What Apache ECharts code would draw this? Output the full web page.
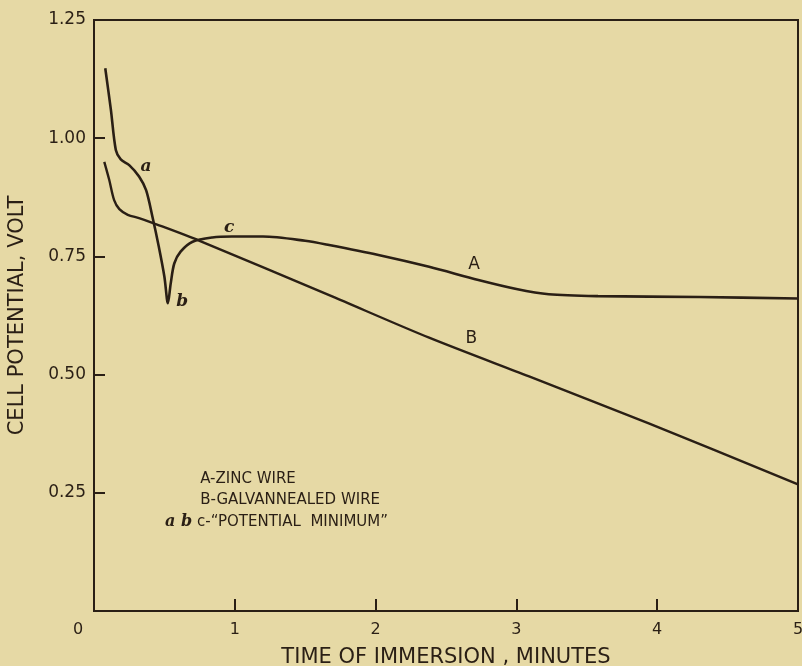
<!DOCTYPE html>
<html>
<head>
<meta charset="utf-8">
<script src="https://cdn.jsdelivr.net/npm/echarts@6/dist/echarts.min.js"></script>
<style>
html,body{margin:0;padding:0;background:#e6d9a5;}
#chart{width:802px;height:666px;}
</style>
</head>
<body>
<div id="chart"></div>
<script>
// Curve A - zinc wire: [minutes, volts]
var zincWire = [
  [0.08, 1.148], [0.12, 1.060], [0.155, 0.975], [0.19, 0.955], [0.25, 0.943],
  [0.32, 0.919], [0.37, 0.890], [0.415, 0.834], [0.46, 0.771], [0.50, 0.707],
  [0.525, 0.651], [0.545, 0.693], [0.57, 0.735], [0.615, 0.760], [0.70, 0.781],
  [0.84, 0.790], [0.98, 0.792], [1.2, 0.792], [1.5, 0.783], [1.67, 0.774],
  [2.02, 0.753], [2.38, 0.728], [2.73, 0.700], [3.0, 0.681], [3.23, 0.670],
  [3.58, 0.666], [4.3, 0.664], [5.0, 0.661]
];
// Curve B - galvannealed wire
var galvWire = [
  [0.073, 0.950], [0.108, 0.912], [0.143, 0.869], [0.18, 0.850], [0.24, 0.838],
  [0.32, 0.831], [0.415, 0.821], [0.75, 0.783], [1.67, 0.668], [2.38, 0.578],
  [3.09, 0.496], [3.94, 0.397], [5.0, 0.268]
];
var xTicks = ['0', '1', '2', '3', '4', '5'];
var yTicks = ['0', '0.25', '0.50', '0.75', '1.00', '1.25'];
// Annotations: [minutes, volts, text]
var curveMarks = [
  [0.37, 0.939, 'a'], [0.626, 0.654, 'b'], [0.96, 0.810, 'c']
];
var curveNames = [
  [2.70, 0.732, 'A'], [2.68, 0.577, 'B']
];
var keyLines = [
  [0.754, 0.279, 'A-ZINC WIRE'],
  [0.754, 0.234, 'B-GALVANNEALED WIRE'],
  [0.505, 0.188, '{i|a b} c-“POTENTIAL  MINIMUM”']
];

var ink = '#2a1f15';
var font = 'DejaVu Sans';

var chart = echarts.init(document.getElementById('chart'));
chart.setOption({
  backgroundColor: '#e6d9a5',
  animation: false,
  grid: { left: 94, right: 4, top: 20, bottom: 55, containLabel: false, outerBoundsMode: 'none',
    show: true, borderColor: ink, borderWidth: 2, backgroundColor: 'transparent' },
  xAxis: {
    type: 'value', min: 0, max: 5, interval: 1,
    name: 'TIME OF IMMERSION , MINUTES', nameLocation: 'middle', nameGap: 36,
    nameTextStyle: { color: ink, fontFamily: font, fontSize: 21 },
    axisLine: { show: true, lineStyle: { color: ink, width: 2 } },
    axisTick: { show: true, inside: true, length: 12, lineStyle: { color: ink, width: 2 } },
    splitLine: { show: false },
    axisLabel: {
      color: ink, fontFamily: font, fontSize: 16, margin: 11,
      formatter: function (v) { var s = xTicks[Math.round(v)]; return v === 0 ? '{z|' + s + '}' : s; },
      rich: { z: { color: ink, fontFamily: font, fontSize: 16, padding: [0, 32, 0, 0] } }
    }
  },
  yAxis: {
    type: 'value', min: 0, max: 1.25, interval: 0.25,
    name: 'CELL POTENTIAL, VOLT', nameLocation: 'middle', nameGap: 66,
    nameTextStyle: { color: ink, fontFamily: font, fontSize: 21 },
    axisLine: { show: true, lineStyle: { color: ink, width: 2 } },
    axisTick: { show: true, inside: true, length: 11, lineStyle: { color: ink, width: 2 } },
    splitLine: { show: false },
    axisLabel: {
      color: ink, fontFamily: font, fontSize: 17, margin: 8,
      formatter: function (v) { var i = Math.round(v / 0.25); return i === 0 ? '' : yTicks[i]; }
    }
  },
  series: [
    { name: 'A', type: 'line', data: zincWire, showSymbol: false, smooth: 0.3,
      lineStyle: { color: ink, width: 2.6 } },
    { name: 'B', type: 'line', data: galvWire, showSymbol: false, smooth: 0.3,
      lineStyle: { color: ink, width: 2.4 } },
    { type: 'scatter', symbolSize: 0, silent: true, itemStyle: { opacity: 1 },
      data: curveMarks.map(function (d) { return { value: [d[0], d[1]], name: d[2] }; }),
      label: { show: true, position: 'inside', formatter: '{b}', color: ink,
        fontFamily: 'DejaVu Serif', fontStyle: 'italic', fontWeight: 'bold', fontSize: 17 } },
    { type: 'scatter', symbolSize: 0, silent: true, itemStyle: { opacity: 1 },
      data: curveNames.map(function (d) { return { value: [d[0], d[1]], name: d[2] }; }),
      label: { show: true, position: 'inside', formatter: '{b}', color: ink, fontFamily: font, fontSize: 17 } },
    { type: 'scatter', symbolSize: 0, silent: true, itemStyle: { opacity: 1 },
      data: keyLines.map(function (d) { return { value: [d[0], d[1]], name: d[2] }; }),
      label: { show: true, position: 'inside', align: 'left', formatter: '{b}', color: ink, fontFamily: font, fontSize: 15,
        rich: { i: { fontFamily: 'DejaVu Serif', fontStyle: 'italic', fontWeight: 'bold', fontSize: 16, color: ink } } } }
  ]
});
</script>
</body>
</html>
